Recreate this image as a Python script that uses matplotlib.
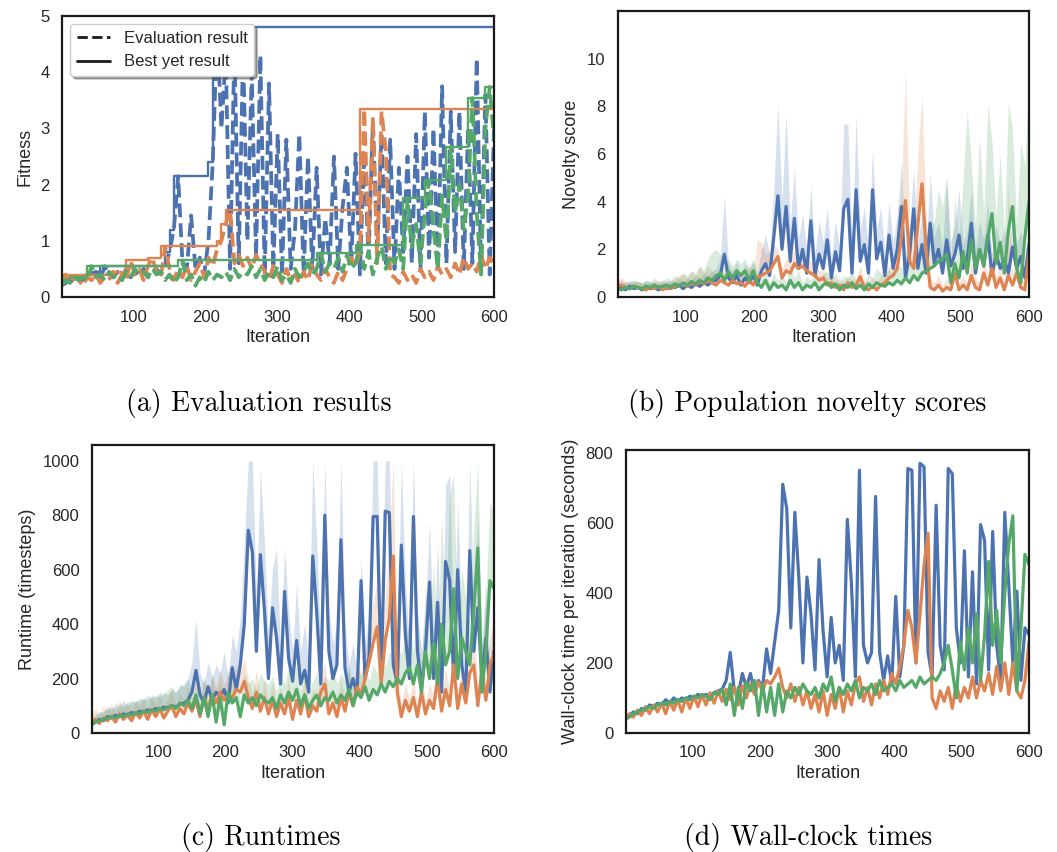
import numpy as np
import matplotlib
matplotlib.use("Agg")
import matplotlib.pyplot as plt
from matplotlib.lines import Line2D
import seaborn as sns

# iteration grid the series were read at (every 6 iterations)
ITERS = np.arange(0, 601, 6)

# (a) evaluation results (fitness)
eval_blue = [0.2, 0.25, 0.3, 0.28, 0.35, 0.3, 0.4, 0.35, 0.45, 0.3,
             0.55, 0.4, 0.35, 0.45, 0.3, 0.5, 0.35, 0.45, 0.4, 0.5,
             0.35, 0.45, 0.5, 0.4, 0.55, 0.8, 1.2, 2.15, 0.6, 0.5,
             1.45, 0.5, 0.7, 0.4, 1.0, 2.4, 4.8, 3.0, 4.3, 0.5,
             4.5, 0.6, 4.4, 1.0, 4.0, 0.7, 4.3, 0.4, 3.8, 0.5,
             2.9, 0.4, 2.8, 0.5, 1.2, 2.9, 0.4, 2.5, 0.5, 2.3,
             0.4, 1.4, 0.6, 2.5, 0.5, 1.6, 2.3, 0.6, 2.55, 0.4,
             2.6, 0.7, 3.1, 0.9, 2.9, 0.6, 2.8, 0.5, 2.3, 0.8,
             2.5, 0.6, 2.9, 0.5, 3.3, 0.7, 3.0, 0.5, 3.75, 0.6,
             3.3, 0.8, 3.3, 0.5, 3.0, 0.6, 4.25, 0.5, 3.6, 0.4, 3.0]
eval_orange = [0.3, 0.4, 0.25, 0.35, 0.3, 0.2, 0.35, 0.3, 0.4, 0.25,
               0.35, 0.3, 0.45, 0.25, 0.4, 0.3, 0.65, 0.4, 0.5, 0.3,
               0.55, 0.7, 0.45, 0.35, 0.9, 0.5, 0.3, 0.5, 0.35, 0.55,
               0.3, 0.45, 0.6, 0.35, 0.7, 0.55, 0.85, 1.0, 1.3, 1.55,
               0.6, 0.75, 0.55, 0.7, 0.5, 0.75, 0.6, 0.45, 0.3, 0.55,
               0.4, 0.25, 0.5, 0.3, 0.4, 0.25, 0.45, 0.3, 0.6, 0.4,
               0.3, 0.5, 0.35, 0.25, 0.45, 0.3, 0.5, 0.7, 0.55, 0.8,
               3.35, 1.0, 3.2, 0.6, 3.3, 2.6, 0.4, 0.35, 0.25, 0.45,
               0.3, 0.4, 0.25, 0.5, 0.35, 0.45, 0.3, 0.55, 0.4, 0.5,
               0.35, 0.6, 0.4, 0.7, 0.5, 0.6, 0.45, 0.75, 0.5, 0.7, 0.6]
eval_green = [0.2, 0.3, 0.25, 0.35, 0.3, 0.35, 0.3, 0.55, 0.35, 0.4,
              0.3, 0.45, 0.35, 0.4, 0.3, 0.45, 0.35, 0.5, 0.4, 0.45,
              0.35, 0.5, 0.4, 0.45, 0.3, 0.4, 0.25, 0.35, 0.65, 0.3,
              0.4, 0.2, 0.35, 0.25, 0.45, 0.3, 0.4, 0.35, 0.45, 0.3,
              0.5, 0.35, 0.45, 0.4, 0.55, 0.35, 0.5, 0.3, 0.45, 0.35,
              0.55, 0.3, 0.4, 0.25, 0.5, 0.35, 0.45, 0.6, 0.4, 0.5,
              0.78, 0.45, 0.6, 0.5, 0.7, 0.45, 0.75, 0.5, 0.6, 0.93,
              0.5, 0.8, 0.4, 0.7, 0.9, 0.5, 0.75, 0.6, 0.85, 0.5,
              1.76, 0.9, 1.3, 0.6, 1.5, 2.08, 1.2, 0.5, 1.8, 1.0,
              2.67, 1.5, 2.0, 1.2, 1.8, 3.54, 1.5, 0.4, 3.0, 3.74, 2.8]

# (b) population novelty scores: mean and upper edge of the spread
nov_blue = [0.35, 0.4, 0.3, 0.45, 0.35, 0.4, 0.3, 0.45, 0.35, 0.4,
            0.3, 0.4, 0.35, 0.45, 0.4, 0.5, 0.35, 0.5, 0.4, 0.55,
            0.45, 0.6, 0.5, 0.65, 0.7, 0.9, 1.8, 0.8, 0.6, 0.9,
            0.5, 0.8, 0.6, 0.9, 0.5, 1.1, 1.4, 0.9, 2.5, 4.25,
            2.0, 3.8, 1.5, 3.3, 1.2, 2.0, 1.0, 3.2, 0.9, 1.8,
            1.2, 2.4, 0.8, 1.9, 1.1, 3.7, 4.1, 1.0, 4.5, 1.5,
            2.2, 1.0, 4.5, 1.6, 2.3, 0.9, 2.6, 1.2, 2.0, 3.8,
            0.8, 1.8, 3.7, 1.2, 2.2, 1.0, 3.1, 1.4, 2.0, 1.0,
            2.4, 1.3, 1.8, 2.6, 1.2, 1.6, 3.1, 1.0, 2.0, 1.3,
            2.6, 0.9, 1.8, 1.2, 1.6, 1.0, 2.1, 1.2, 1.7, 0.8, 2.2]
nov_blue_hi = [0.6, 0.7, 0.55, 0.7, 0.6, 0.65, 0.55, 0.7, 0.6, 0.65,
               0.55, 0.7, 0.6, 0.7, 0.65, 0.8, 0.6, 0.8, 0.7, 0.9,
               0.8, 1.0, 0.9, 1.1, 1.2, 1.6, 4.25, 1.4, 1.0, 1.5,
               0.9, 1.4, 1.1, 1.5, 0.9, 2.0, 2.6, 1.8, 4.5, 8.1,
               4.0, 7.7, 3.0, 5.4, 2.4, 3.5, 2.0, 4.7, 1.8, 3.2,
               2.3, 3.8, 1.6, 3.2, 2.0, 7.25, 7.25, 2.0, 7.6, 2.8,
               3.8, 2.0, 6.2, 2.8, 3.8, 1.8, 4.0, 2.3, 3.5, 5.65,
               1.8, 3.0, 5.3, 2.3, 3.5, 2.0, 5.2, 2.5, 3.2, 2.0,
               4.9, 2.3, 3.0, 4.5, 2.2, 2.8, 4.5, 2.0, 3.2, 2.4,
               4.0, 1.8, 3.0, 2.2, 2.8, 2.0, 3.4, 2.2, 2.8, 1.6, 3.2]
nov_orange = [0.45, 0.5, 0.4, 0.35, 0.45, 0.4, 0.35, 0.3, 0.4, 0.35,
              0.45, 0.3, 0.4, 0.35, 0.45, 0.5, 0.55, 0.45, 0.6, 0.5,
              0.65, 0.55, 0.7, 0.6, 0.5, 0.7, 0.6, 0.5, 0.7, 0.55,
              0.6, 0.45, 0.7, 0.5, 0.8, 0.9, 1.0, 1.1, 1.4, 1.7,
              0.8, 1.1, 1.0, 1.4, 1.2, 1.3, 1.1, 1.0, 0.9, 0.7,
              0.8, 0.5, 0.6, 0.4, 0.5, 0.3, 0.6, 0.4, 0.5, 0.85,
              0.4, 0.3, 0.45, 0.3, 0.5, 0.6, 0.8, 0.9, 1.2, 2.5,
              4.05, 1.5, 1.2, 3.0, 4.75, 2.0, 0.4, 0.3, 0.5, 0.25,
              0.4, 0.3, 1.0, 0.3, 0.5, 0.3, 0.9, 0.4, 0.3, 1.0,
              0.5, 1.2, 0.4, 0.8, 0.3, 0.9, 0.5, 1.0, 0.4, 0.3, 1.8]
nov_orange_hi = [0.7, 0.8, 0.65, 0.6, 0.7, 0.65, 0.6, 0.55, 0.65, 0.6,
                 0.7, 0.55, 0.7, 0.65, 0.8, 0.9, 1.0, 0.8, 1.1, 0.9,
                 1.3, 1.0, 1.3, 1.1, 0.9, 1.2, 1.0, 0.9, 1.2, 1.0,
                 1.1, 0.9, 1.4, 1.0, 2.4, 2.3, 1.8, 1.9, 2.2, 2.0,
                 1.2, 1.6, 1.5, 2.0, 1.8, 1.9, 1.6, 1.5, 1.3, 1.1,
                 1.2, 0.8, 0.9, 0.7, 0.8, 0.6, 0.9, 0.7, 0.8, 1.3,
                 0.7, 0.6, 0.8, 0.6, 0.9, 1.0, 1.3, 1.5, 2.0, 4.5,
                 9.5, 3.0, 2.4, 6.0, 8.45, 3.5, 0.8, 0.6, 0.9, 0.5,
                 0.8, 0.6, 1.6, 0.6, 0.9, 0.6, 1.5, 0.8, 0.6, 1.7,
                 0.9, 2.0, 0.8, 1.4, 0.6, 4.6, 0.9, 1.6, 0.8, 0.6, 2.8]
nov_green = [0.35, 0.3, 0.4, 0.35, 0.45, 0.4, 0.35, 0.45, 0.4, 0.5,
             0.4, 0.45, 0.5, 0.4, 0.55, 0.45, 0.6, 0.5, 0.65, 0.55,
             0.7, 0.6, 0.8, 0.7, 0.9, 1.0, 0.7, 1.05, 0.8, 1.1,
             0.9, 1.1, 0.7, 1.1, 0.6, 0.4, 0.7, 0.3, 0.6, 0.4,
             0.5, 0.3, 0.7, 0.4, 0.6, 0.3, 0.5, 0.4, 0.6, 0.3,
             0.5, 0.6, 0.4, 0.55, 0.3, 0.5, 0.4, 0.6, 0.35, 0.5,
             0.3, 0.55, 0.4, 0.6, 0.5, 0.45, 0.6, 0.5, 0.7, 0.55,
             0.8, 0.6, 0.9, 0.7, 1.0, 1.1, 1.2, 1.3, 1.5, 1.6,
             1.8, 0.6, 1.4, 0.8, 1.9, 1.0, 2.4, 1.2, 2.0, 1.3,
             2.5, 3.5, 1.4, 2.3, 1.0, 2.8, 3.8, 1.2, 0.6, 2.5, 4.0]
nov_green_hi = [0.55, 0.5, 0.65, 0.6, 0.7, 0.65, 0.6, 0.7, 0.65, 0.8,
                0.65, 0.7, 0.8, 0.7, 0.9, 0.8, 1.0, 0.9, 1.1, 1.0,
                1.3, 1.1, 1.6, 1.9, 2.0, 1.8, 1.2, 1.6, 1.3, 1.6,
                1.4, 1.6, 1.2, 1.6, 1.0, 0.8, 1.2, 0.6, 1.0, 0.7,
                0.9, 0.6, 1.3, 0.8, 1.1, 0.6, 0.9, 0.7, 1.1, 0.6,
                1.0, 1.1, 0.8, 1.0, 0.6, 0.9, 0.8, 1.1, 0.7, 0.9,
                0.6, 1.0, 0.8, 1.2, 1.0, 0.9, 1.2, 1.0, 1.5, 1.2,
                1.8, 1.3, 2.0, 1.6, 2.4, 2.6, 2.8, 3.2, 4.5, 3.8,
                5.1, 1.6, 4.2, 2.2, 5.0, 7.8, 5.6, 3.0, 6.8, 3.5,
                8.1, 6.5, 3.4, 6.0, 2.8, 8.2, 7.0, 3.0, 6.5, 5.5, 9.6]

# (c) runtimes (timesteps): mean and upper edge of the spread
run_blue = [30, 40, 50, 45, 60, 55, 65, 60, 70, 65,
            75, 70, 80, 75, 85, 80, 90, 85, 95, 90,
            100, 95, 105, 110, 120, 150, 230, 140, 110, 170,
            120, 150, 130, 160, 110, 240, 160, 250, 400, 745,
            665, 300, 655, 450, 200, 460, 350, 180, 520, 275,
            190, 340, 180, 230, 150, 650, 440, 180, 800, 300,
            200, 250, 710, 240, 150, 200, 140, 560, 200, 280,
            795, 795, 200, 815, 810, 250, 180, 690, 360, 200,
            795, 300, 170, 300, 555, 200, 480, 150, 630, 560,
            200, 600, 250, 150, 670, 300, 460, 200, 350, 150, 300]
run_blue_hi = [50, 60, 80, 70, 100, 80, 110, 90, 120, 100,
               120, 110, 130, 120, 140, 125, 140, 130, 150, 140,
               160, 150, 170, 180, 200, 260, 420, 220, 180, 260,
               200, 250, 220, 300, 200, 360, 300, 420, 700, 1000,
               1000, 500, 970, 700, 350, 600, 680, 300, 680, 450,
               300, 550, 300, 400, 260, 1000, 700, 300, 1000, 450,
               330, 400, 1000, 400, 250, 330, 230, 640, 330, 450,
               1000, 1000, 350, 1000, 1000, 400, 300, 1000, 550, 330,
               1000, 450, 300, 450, 780, 330, 700, 260, 910, 950,
               330, 850, 400, 260, 1000, 450, 800, 330, 550, 260, 450]
run_orange = [40, 50, 35, 55, 45, 60, 40, 70, 50, 65,
              45, 75, 55, 80, 50, 85, 60, 90, 55, 80,
              100, 60, 90, 70, 110, 80, 120, 60, 130, 90,
              140, 110, 150, 120, 140, 130, 160, 150, 190, 130,
              90, 150, 80, 130, 70, 120, 60, 110, 70, 130,
              50, 120, 70, 140, 60, 100, 80, 150, 180, 70,
              110, 60, 130, 80, 150, 100, 170, 140, 200, 260,
              330, 390, 180, 340, 420, 650, 150, 60, 120, 80,
              130, 60, 150, 70, 120, 90, 200, 80, 160, 100,
              250, 90, 180, 110, 220, 250, 100, 230, 120, 250, 290]
run_orange_hi = [70, 90, 60, 100, 80, 110, 70, 120, 90, 110,
                 80, 120, 100, 130, 90, 140, 100, 150, 90, 130,
                 160, 100, 150, 110, 170, 130, 190, 100, 200, 140,
                 210, 170, 230, 180, 220, 200, 250, 230, 270, 200,
                 140, 230, 130, 200, 110, 190, 100, 170, 110, 200,
                 80, 180, 110, 210, 100, 160, 130, 220, 260, 110,
                 170, 100, 200, 130, 230, 160, 260, 220, 300, 380,
                 480, 560, 280, 500, 700, 1000, 230, 100, 180, 130,
                 200, 100, 230, 110, 180, 140, 300, 130, 240, 160,
                 360, 140, 270, 170, 320, 400, 160, 340, 180, 360, 420]
run_green = [30, 40, 45, 50, 55, 60, 55, 65, 60, 70,
             65, 75, 70, 80, 75, 85, 80, 90, 85, 95,
             100, 90, 110, 100, 120, 90, 140, 70, 130, 60,
             140, 40, 130, 30, 150, 110, 130, 60, 140, 110,
             130, 100, 140, 120, 110, 130, 90, 140, 110, 150,
             120, 160, 100, 140, 90, 120, 140, 100, 130, 120,
             150, 110, 140, 120, 160, 100, 150, 130, 170, 120,
             160, 140, 180, 150, 190, 170, 200, 180, 220, 240,
             180, 250, 150, 300, 200, 330, 180, 400, 250, 300,
             530, 200, 350, 300, 250, 450, 680, 150, 300, 560, 530]
run_green_hi = [50, 70, 75, 80, 90, 95, 90, 110, 100, 115,
                110, 120, 115, 130, 120, 140, 130, 150, 140, 160,
                170, 150, 180, 170, 200, 150, 220, 130, 210, 120,
                230, 100, 210, 90, 240, 180, 210, 120, 220, 180,
                200, 160, 220, 190, 180, 210, 150, 220, 180, 240,
                190, 250, 160, 220, 150, 190, 220, 160, 210, 190,
                240, 180, 220, 190, 250, 160, 240, 210, 270, 190,
                250, 220, 280, 240, 300, 270, 320, 290, 360, 400,
                300, 420, 250, 550, 350, 620, 300, 800, 450, 880,
                950, 350, 600, 500, 400, 750, 1000, 300, 500, 850, 800]

# (d) wall-clock time per iteration (seconds)
wall_blue = [40, 50, 60, 55, 70, 65, 80, 75, 85, 80,
             95, 85, 100, 90, 100, 95, 105, 100, 110, 105,
             110, 105, 115, 120, 125, 150, 230, 120, 110, 170,
             130, 170, 120, 150, 130, 240, 170, 260, 350, 710,
             640, 300, 630, 440, 200, 445, 340, 180, 495, 290,
             160, 330, 200, 250, 150, 610, 430, 160, 750, 250,
             200, 230, 675, 230, 150, 220, 140, 390, 160, 250,
             755, 750, 200, 770, 760, 230, 160, 650, 250, 180,
             755, 740, 300, 200, 520, 160, 460, 140, 595, 550,
             180, 575, 250, 150, 630, 420, 200, 405, 150, 300, 280]
wall_orange = [40, 55, 45, 65, 50, 75, 55, 80, 60, 85,
               55, 90, 65, 95, 60, 100, 70, 105, 75, 110,
               80, 115, 85, 120, 90, 125, 95, 130, 80, 135,
               100, 140, 110, 145, 120, 150, 140, 160, 185, 130,
               100, 140, 90, 130, 80, 120, 70, 110, 60, 120,
               50, 110, 70, 130, 60, 120, 80, 140, 160, 90,
               130, 80, 140, 100, 150, 110, 170, 140, 190, 250,
               350, 300, 200, 340, 480, 570, 100, 70, 120, 90,
               130, 70, 140, 90, 130, 100, 160, 100, 150, 120,
               170, 110, 190, 120, 200, 110, 200, 120, 100, 150, 260]
wall_green = [40, 45, 55, 60, 65, 70, 75, 70, 80, 85,
              80, 90, 85, 95, 90, 100, 95, 105, 100, 110,
              105, 95, 115, 110, 125, 80, 140, 50, 130, 70,
              145, 120, 150, 50, 140, 60, 130, 50, 140, 60,
              120, 100, 130, 110, 140, 120, 110, 130, 100, 140,
              120, 160, 90, 130, 110, 140, 120, 150, 100, 130,
              120, 140, 110, 150, 120, 130, 140, 120, 150, 130,
              140, 150, 130, 160, 140, 150, 160, 150, 170, 200,
              250, 180, 100, 260, 180, 300, 200, 340, 150, 280,
              490, 250, 350, 200, 400, 540, 620, 120, 300, 510, 480]

COLORS = ["#4c72b0", "#dd8452", "#55a868"]
XTICKS = [100, 200, 300, 400, 500, 600]

sns.set_theme(style="white")
plt.rcParams["font.family"] = ["Liberation Sans", "DejaVu Sans"]

fig = plt.figure(figsize=(10.57, 8.52), dpi=100)
ax_a = fig.add_axes([0.0587, 0.6514, 0.4087, 0.3298])
ax_b = fig.add_axes([0.5847, 0.6514, 0.3888, 0.3357])
ax_c = fig.add_axes([0.0870, 0.1397, 0.3803, 0.3380])
ax_d = fig.add_axes([0.5922, 0.1397, 0.3813, 0.3322])

def style_axes(ax, ylabel, ylim, yticks):
    ax.set_xlim(1, 600)
    ax.set_ylim(*ylim)
    ax.set_xticks(XTICKS)
    ax.set_yticks(yticks)
    ax.tick_params(labelsize=12, colors=".15", length=0, pad=9)
    ax.set_xlabel("Iteration", fontsize=13, color=".15", labelpad=3)
    ax.set_ylabel(ylabel, fontsize=13, color=".15", labelpad=5)
    for sp in ax.spines.values():
        sp.set_color(".1")
        sp.set_linewidth(1.6)

# (a)
for ev, c in zip([eval_blue, eval_orange, eval_green], COLORS):
    ev = np.array(ev)
    ax_a.plot(ITERS, ev, color=c, linestyle="--", linewidth=2.7)
    ax_a.plot(ITERS, np.maximum.accumulate(ev), color=c, linewidth=1.7,
              drawstyle="steps-pre")
style_axes(ax_a, "Fitness", (0, 5), [0, 1, 2, 3, 4, 5])
handles = [Line2D([], [], color="k", linestyle="--", linewidth=2),
           Line2D([], [], color="k", linewidth=2)]
leg = ax_a.legend(handles, ["Evaluation result", "Best yet result"],
                  loc="upper left", fontsize=12, frameon=True, shadow=True,
                  fancybox=True, borderaxespad=0.5)
leg.get_frame().set_facecolor("white")
leg.set_zorder(10)

# (b)
for m, hi, c in zip([nov_blue, nov_orange, nov_green],
                    [nov_blue_hi, nov_orange_hi, nov_green_hi], COLORS):
    ax_b.fill_between(ITERS, m, hi, color=c, alpha=0.22, linewidth=0)
    ax_b.plot(ITERS, m, color=c, linewidth=2.3)
style_axes(ax_b, "Novelty score", (0, 12), [0, 2, 4, 6, 8, 10])

# (c)
for m, hi, c in zip([run_blue, run_orange, run_green],
                    [run_blue_hi, run_orange_hi, run_green_hi], COLORS):
    ax_c.fill_between(ITERS, m, hi, color=c, alpha=0.22, linewidth=0)
    ax_c.plot(ITERS, m, color=c, linewidth=2.3)
style_axes(ax_c, "Runtime (timesteps)", (0, 1058), [0, 200, 400, 600, 800, 1000])

# (d)
for m, c in zip([wall_blue, wall_orange, wall_green], COLORS):
    ax_d.plot(ITERS, m, color=c, linewidth=2.3)
style_axes(ax_d, "Wall-clock time per iteration (seconds)", (0, 808),
           [0, 200, 400, 600, 800])

cap = dict(family="cmr10", fontsize=20, ha="center", va="center", color="black")
fig.text(259 / 1057, 1 - 404 / 852, "(a) Evaluation results", **cap)
fig.text(807 / 1057, 1 - 404 / 852, "(b) Population novelty scores", **cap)
fig.text(261 / 1057, 1 - 838 / 852, "(c) Runtimes", **cap)
fig.text(808 / 1057, 1 - 838 / 852, "(d) Wall-clock times", **cap)

fig.savefig("out.png", dpi=100)
